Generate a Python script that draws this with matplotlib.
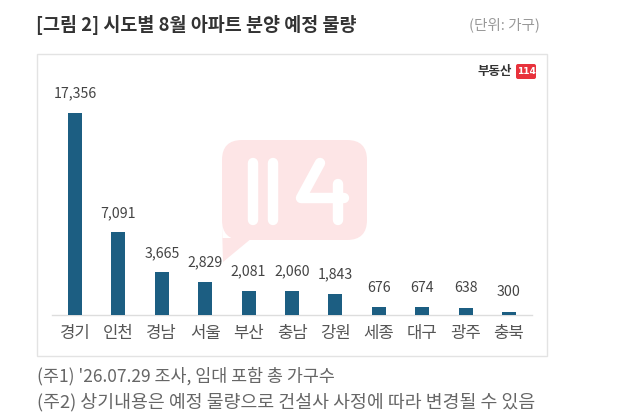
import matplotlib
matplotlib.use("Agg")
import matplotlib.pyplot as plt
from matplotlib.patches import FancyBboxPatch, Rectangle, Polygon

plt.rcParams['font.family'] = ['Noto Sans CJK KR', 'DejaVu Sans']

regions = ['경기', '인천', '경남', '서울', '부산', '충남', '강원', '세종', '대구', '광주', '충북']
values = [17356, 7091, 3665, 2829, 2081, 2060, 1843, 676, 674, 638, 300]

W, H = 628, 415
fig = plt.figure(figsize=(W / 100, H / 100), dpi=100)
fig.patch.set_facecolor('white')

def fx(px):
    return px / W

def fy(py):
    return 1 - py / H

# decoration layer in pixel coordinates
bg = fig.add_axes([0, 0, 1, 1], zorder=0)
bg.set_xlim(0, W)
bg.set_ylim(H, 0)
bg.axis('off')

# chart box
bg.add_patch(Rectangle((37, 54), 510, 302, fill=False, edgecolor='#e3e3e3', linewidth=1.0))

# watermark bubble
pink = '#fde5e6'
bg.add_patch(FancyBboxPatch((222, 140), 145, 100, boxstyle="round,pad=0,rounding_size=20",
                            facecolor=pink, edgecolor='none'))
bg.add_patch(Polygon([(222, 225), (223, 262), (252, 238), (222, 238)], closed=True,
                     facecolor=pink, edgecolor='none'))
lw = 7.5
bg.plot([253, 253], [163, 220], color='white', lw=lw, solid_capstyle='round')
bg.plot([273, 273], [163, 220], color='white', lw=lw, solid_capstyle='round')
bg.plot([320, 301, 344], [163, 198, 198], color='white', lw=lw,
        solid_capstyle='round', solid_joinstyle='round')
bg.plot([338, 338], [184, 220], color='white', lw=lw, solid_capstyle='round')

# logo
bg.text(512, 72, '부동산', ha='right', va='center', fontsize=9, fontweight='bold', color='#333333')
bg.add_patch(FancyBboxPatch((516, 64), 20, 15, boxstyle="round,pad=0,rounding_size=2",
                            facecolor='#e8323c', edgecolor='none'))
bg.text(526, 71.5, '114', ha='center', va='center', fontsize=6.5, fontweight='bold',
        color='white', family='DejaVu Sans')

# axes
ax_l, ax_r, base_y, ax_top = 52, 532, 315, 60
ax = fig.add_axes([fx(ax_l), fy(base_y), fx(ax_r) - fx(ax_l), fy(ax_top) - fy(base_y)], zorder=1)
ax.patch.set_alpha(0)
x = list(range(len(regions)))
ax.bar(x, values, width=0.32, color='#1c5e82', zorder=3)
ymax = 17356 * (base_y - ax_top) / (base_y - 113)
ax.set_ylim(0, ymax)
ax.set_xlim(-0.53, len(regions) - 1 + 0.53)
for xi, v in zip(x, values):
    ax.annotate(f'{v:,}', (xi, v), xytext=(0, 9), textcoords='offset points',
                ha='center', va='bottom', fontsize=10.2, color='#444444')
for s in ['top', 'right', 'left']:
    ax.spines[s].set_visible(False)
ax.spines['bottom'].set_color('#dddddd')
ax.spines['bottom'].set_linewidth(1.0)
ax.set_yticks([])
ax.set_xticks(x)
ax.set_xticklabels(regions, fontsize=12, color='#555555')
ax.tick_params(axis='x', length=0, pad=7)

# title & unit
fig.text(fx(36), fy(25), '[그림 2] 시도별 8월 아파트 분양 예정 물량', ha='left', va='center',
         fontsize=13.3, fontweight='bold', color='#333333')
fig.text(fx(540), fy(25), '(단위: 가구)', ha='right', va='center', fontsize=10.5, color='#999999')

# footnotes
fig.text(fx(37), fy(376), "(주1) '26.07.29 조사, 임대 포함 총 가구수", ha='left', va='center',
         fontsize=12.5, color='#666666')
fig.text(fx(37), fy(402), "(주2) 상기내용은 예정 물량으로 건설사 사정에 따라 변경될 수 있음", ha='left', va='center',
         fontsize=13.2, color='#666666')

fig.savefig('out.png', dpi=100, facecolor='white')
